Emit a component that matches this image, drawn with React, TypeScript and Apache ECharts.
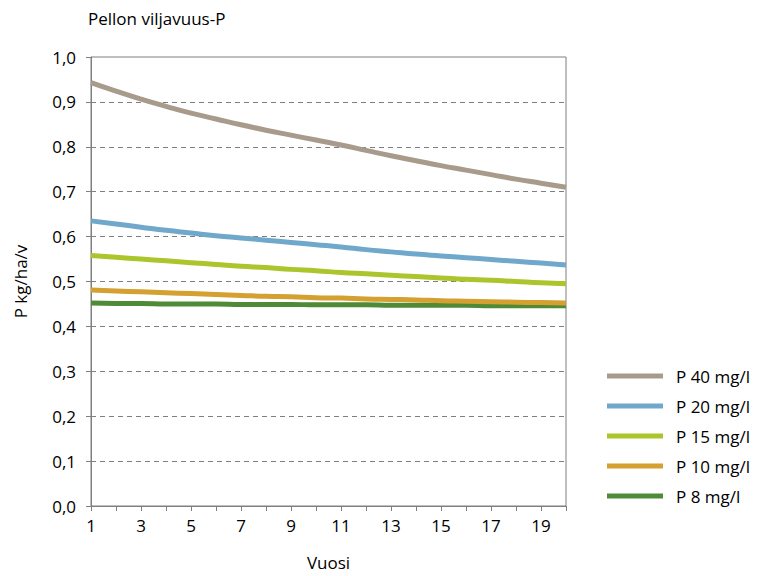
import React, { useEffect, useRef } from "react";
import * as echarts from "echarts";

const years = ["1","2","3","4","5","6","7","8","9","10","11","12","13","14","15","16","17","18","19","20"];
const p40 = [0.943,0.924,0.906,0.890,0.875,0.862,0.849,0.837,0.826,0.815,0.804,0.792,0.780,0.769,0.758,0.748,0.738,0.728,0.719,0.710];
const p20 = [0.635,0.628,0.621,0.614,0.608,0.602,0.597,0.592,0.587,0.582,0.577,0.571,0.566,0.561,0.557,0.553,0.549,0.545,0.541,0.537];
const p15 = [0.558,0.554,0.550,0.546,0.542,0.538,0.534,0.531,0.527,0.524,0.520,0.517,0.514,0.511,0.508,0.505,0.503,0.500,0.497,0.495];
const p10 = [0.481,0.479,0.477,0.475,0.473,0.471,0.469,0.467,0.466,0.464,0.463,0.461,0.460,0.459,0.457,0.456,0.455,0.454,0.453,0.452];
const p8 = [0.452,0.451,0.451,0.450,0.450,0.450,0.449,0.449,0.449,0.448,0.448,0.448,0.447,0.447,0.447,0.447,0.446,0.446,0.446,0.446];

const seriesNames = ["P 40 mg/l","P 20 mg/l","P 15 mg/l","P 10 mg/l","P 8 mg/l"];
const seriesData = [p40, p20, p15, p10, p8];
const colors = ["#A89B8B","#70A8CC","#AAC62C","#D4A030","#4F8B37"];

const FONT = "'Open Sans', Lato, sans-serif";
const FS = 17;
const AXIS = "#7f7f7f";

export default function App() {
  const ref = useRef<HTMLDivElement>(null);
  useEffect(() => {
    if (!ref.current) return;
    const chart = echarts.init(ref.current, undefined, { renderer: "svg" });
    chart.setOption({
      animation: false,
      backgroundColor: "#ffffff",
      textStyle: { fontFamily: FONT, color: "#000" },
      graphic: [
        { type: "text", left: 88, top: 10, style: { text: "Pellon viljavuus-P", fontSize: FS, fontFamily: FONT, fill: "#000" } },
      ],
      grid: { left: 91, right: 191, top: 57, bottom: 69, show: true, borderColor: AXIS, borderWidth: 1, containLabel: false },
      legend: {
        orient: "vertical",
        left: 607,
        top: 366,
        padding: 0,
        icon: "rect",
        itemWidth: 56,
        itemHeight: 5,
        itemGap: 10,
        textStyle: { fontSize: FS, fontFamily: FONT, color: "#000", lineHeight: 20, padding: [0, 0, 0, 8] },
        data: seriesNames,
      },
      xAxis: {
        type: "category",
        data: years,
        boundaryGap: false,
        name: "Vuosi",
        nameLocation: "middle",
        nameGap: 48,
        nameTextStyle: { fontSize: FS, fontFamily: FONT, color: "#000" },
        axisLine: { lineStyle: { color: AXIS } },
        axisTick: { show: true, interval: 0, length: 5, lineStyle: { color: AXIS } },
        axisLabel: { interval: 1, fontSize: FS, fontFamily: FONT, color: "#000", margin: 11 },
        splitLine: { show: false },
      },
      yAxis: {
        type: "value",
        min: 0,
        max: 1,
        interval: 0.1,
        name: "P kg/ha/v",
        nameLocation: "middle",
        nameGap: 62,
        nameRotate: 90,
        nameTextStyle: { fontSize: FS, fontFamily: FONT, color: "#000" },
        axisLine: { show: true, lineStyle: { color: AXIS } },
        axisTick: { show: true, length: 5, lineStyle: { color: AXIS } },
        axisLabel: {
          fontSize: FS,
          fontFamily: FONT,
          color: "#000",
          margin: 15,
          formatter: (v: number) => v.toFixed(1).replace(".", ","),
        },
        splitLine: { show: true, showMinLine: false, showMaxLine: false, lineStyle: { color: AXIS, type: [5, 4], width: 1 } },
      },
      series: seriesNames.map((name, i) => ({
        name,
        type: "line",
        data: seriesData[i],
        showSymbol: false,
        symbol: "none",
        smooth: true,
        lineStyle: { width: 5, color: colors[i] },
        itemStyle: { color: colors[i] },
        z: 10 - i,
      })),
    });
    return () => chart.dispose();
  }, []);
  return <div ref={ref} style={{ position: "fixed", left: 0, top: 0, width: 757, height: 576 }} />;
}
